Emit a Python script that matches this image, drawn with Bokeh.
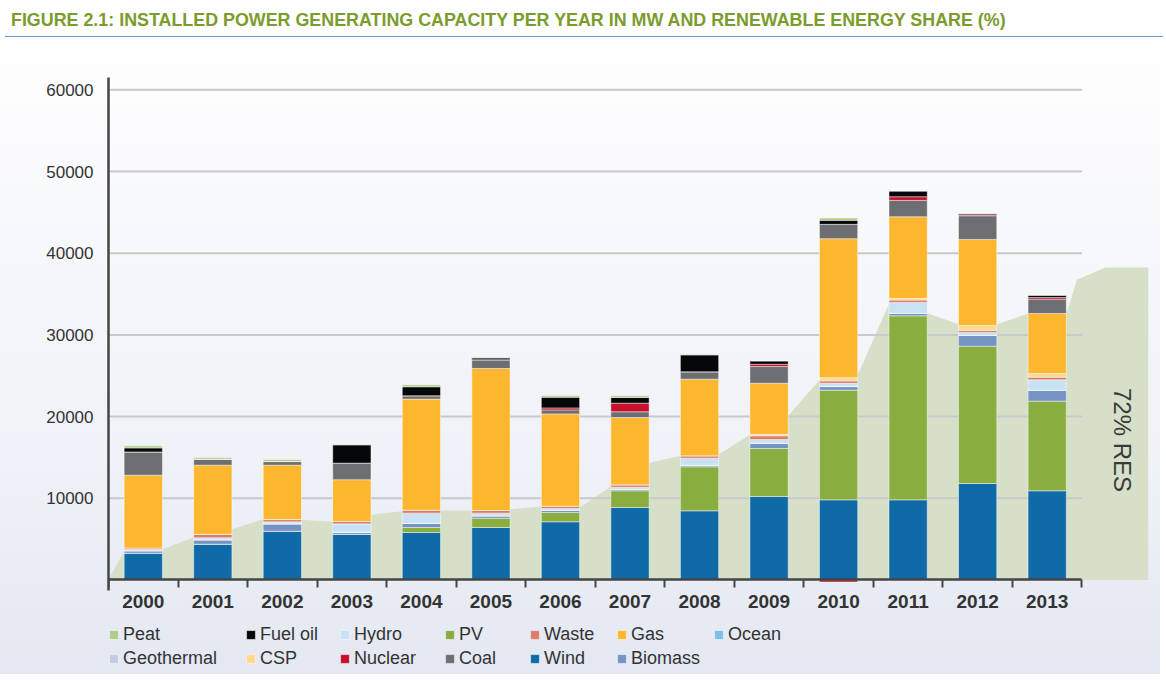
import numpy as np
from bokeh.plotting import figure
from bokeh.models import ColumnDataSource, FixedTicker, Range1d, Legend, LegendItem, Div
from bokeh.layouts import column
from bokeh.core.properties import value
from bokeh.embed import file_html
from bokeh.resources import INLINE

# ---------------- data ----------------
years = [2000, 2001, 2002, 2003, 2004, 2005, 2006, 2007, 2008, 2009, 2010, 2011, 2012, 2013]

wind       = [3280, 4380, 5975, 5600, 5815, 6425, 7125, 8875, 8470, 10220, 9815, 9815, 11810, 10920]
pv         = [0, 0, 0, 0, 610, 1140, 1140, 2040, 5385, 5875, 13415, 22520, 16810, 10970]
biomass    = [300, 540, 900, 245, 490, 285, 285, 200, 200, 650, 450, 290, 1310, 1350]
ocean      = [0, 0, 0, 0, 0, 0, 0, 0, 0, 0, 0, 0, 0, 0]
geothermal = [0, 0, 0, 0, 0, 0, 0, 0, 0, 0, 0, 0, 0, 0]
hydro      = [150, 245, 245, 1030, 1265, 330, 200, 245, 855, 450, 400, 1345, 370, 1270]
waste      = [200, 440, 280, 300, 370, 330, 280, 290, 290, 450, 290, 290, 245, 320]
csp        = [0, 0, 0, 0, 0, 0, 0, 0, 0, 200, 400, 200, 610, 450]
gas        = [8900, 8450, 6650, 5100, 13590, 17380, 11300, 8240, 9380, 6240, 17010, 10000, 10530, 7345]
coal       = [2850, 735, 450, 2030, 410, 1060, 490, 700, 905, 2040, 1750, 2000, 2900, 1750]
nuclear    = [0, 0, 0, 0, 0, 0, 245, 1050, 0, 280, -250, 450, 120, 200]
fuel_oil   = [490, 0, 0, 2250, 1100, 245, 1310, 700, 2080, 415, 490, 700, 160, 280]
peat       = [250, 200, 245, 0, 245, 0, 200, 200, 0, 0, 290, 0, 0, 0]

# renewable-share background area (x in category units, y in MW)
res_x = [-0.503, -0.273, 0.278, 0.719, 1.280, 1.721, 2.258, 2.714, 3.275, 3.720, 4.271, 4.717,
         5.292, 5.742, 6.299, 6.740, 7.295, 7.737, 8.298, 8.733, 9.294, 9.735, 10.292, 10.732,
         11.288, 11.730, 12.281, 12.726, 13.292, 13.427, 13.834, 14.457, 14.457]
res_y = [0, 3574, 3770, 5202, 6218, 7442, 7368, 7124, 7980, 8421, 8507, 8507,
         8666, 8996, 8996, 11530, 14382, 15202, 15484, 17846, 20294, 24578, 25398, 33966,
         32620, 31310, 31310, 32620, 32950, 36744, 38250, 38250, 0]
res_label = "72% RES"

y_ticks = [10000, 20000, 30000, 40000, 50000, 60000]

title = "FIGURE 2.1: INSTALLED POWER GENERATING CAPACITY PER YEAR IN MW AND RENEWABLE ENERGY SHARE (%)"

series = {
    "Wind": wind, "PV": pv, "Biomass": biomass, "Ocean": ocean, "Geothermal": geothermal,
    "Hydro": hydro, "Waste": waste, "CSP": csp, "Gas": gas, "Coal": coal,
    "Nuclear": nuclear, "Fuel oil": fuel_oil, "Peat": peat,
}
colors = {
    "Wind": "#106aa8", "PV": "#8aad3f", "Biomass": "#7594c4", "Ocean": "#7cbfe8",
    "Geothermal": "#c2cbe3", "Hydro": "#c8e1f3", "Waste": "#df7b6b", "CSP": "#fdd996",
    "Gas": "#fdb72f", "Coal": "#6d6e71", "Nuclear": "#c8102e", "Fuel oil": "#050709",
    "Peat": "#b0cd8a",
}
stack_order = ["Wind", "PV", "Biomass", "Ocean", "Geothermal", "Hydro", "Waste", "CSP",
               "Gas", "Coal", "Nuclear", "Fuel oil", "Peat"]
legend_columns = [["Peat", "Geothermal"], ["Fuel oil", "CSP"], ["Hydro", "Nuclear"],
                  ["PV", "Coal"], ["Waste", "Wind"], ["Gas", "Biomass"], ["Ocean"]]

# ---------------- figure ----------------
# frame runs from the top of the value axis down to the bottom of the figure;
# the category axis is fixed at y = 0 and the legend sits inside the frame below it
p = figure(width=1150, height=631,
           x_range=Range1d(-0.5, 14.457), y_range=Range1d(-11567, 61506),
           output_backend="svg", toolbar_location=None,
           min_border_left=108, min_border_right=2, min_border_top=34, min_border_bottom=0,
           background_fill_alpha=0, border_fill_alpha=0, outline_line_color=None)
p.grid.visible = False

xs = np.arange(len(years))

# renewable share area
p.patch(res_x, res_y, fill_color="#d6e0c9", line_color=None)

# grid lines (stop at the end of the category axis)
p.segment(x0=[-0.5] * len(y_ticks), x1=[13.5] * len(y_ticks), y0=y_ticks, y1=y_ticks,
          line_color="#c9c9cb", line_width=2)

# stacked bars
pos_base = np.zeros(len(years))
neg_base = np.zeros(len(years))
renderers = {}
for name in stack_order:
    vals = np.array(series[name], dtype=float)
    bottom = np.where(vals >= 0, pos_base, neg_base + vals)
    top = np.where(vals >= 0, pos_base + vals, neg_base)
    pos_base = pos_base + np.where(vals > 0, vals, 0)
    neg_base = neg_base + np.where(vals < 0, vals, 0)
    src = ColumnDataSource(dict(x=xs, bottom=bottom, top=top))
    renderers[name] = p.vbar(x="x", bottom="bottom", top="top", width=0.55, source=src,
                             fill_color=colors[name], line_color="white", line_alpha=0.45,
                             line_width=1)

# RES label
p.text(x=[14.08], y=[17136], text=[res_label], angle=-np.pi / 2,
       text_align="center", text_baseline="middle",
       text_font=value("Liberation Sans"), text_font_size="24px", text_color="#3a3a3a")

# axes
xa = p.xaxis[0]
xa.fixed_location = 0
xa.bounds = (-0.5, 13.5)
xa.ticker = FixedTicker(ticks=list(range(len(years))),
                        minor_ticks=[i - 0.5 for i in range(len(years) + 1)])
xa.major_label_overrides = {i: str(y) for i, y in enumerate(years)}
xa.axis_line_color = "#444444"
xa.axis_line_width = 2.5
xa.major_tick_line_color = None
xa.major_tick_out = 0
xa.major_tick_in = 0
xa.minor_tick_line_color = "#444444"
xa.minor_tick_line_width = 2
xa.minor_tick_out = 8
xa.minor_tick_in = 0
xa.major_label_standoff = 7
xa.major_label_text_font = "Liberation Sans"
xa.major_label_text_font_size = "19px"
xa.major_label_text_font_style = "bold"
xa.major_label_text_color = "#333333"

ya = p.yaxis[0]
ya.bounds = (-1285, 61506)
ya.ticker = FixedTicker(ticks=y_ticks)
ya.axis_line_color = "#444444"
ya.axis_line_width = 2.5
ya.major_tick_out = 0
ya.major_tick_in = 0
ya.minor_tick_line_color = None
ya.major_label_standoff = 15
ya.major_label_text_font = "Liberation Sans"
ya.major_label_text_font_size = "17px"
ya.major_label_text_color = "#333333"

# legend: one small vertical legend per column so the columns line up as in the original
legend_offsets = [0, 137, 231, 336, 421, 508, 605]
for names, dx in zip(legend_columns, legend_offsets):
    h = len(names) * 21 + (len(names) - 1) * 3
    lg = Legend(items=[LegendItem(label=n, renderers=[renderers[n]]) for n in names],
                orientation="vertical", location=(dx, 672 - 622 - h),
                glyph_width=11, glyph_height=11, label_standoff=4, spacing=3,
                padding=0, margin=0, label_height=21,
                label_text_font="Liberation Sans", label_text_font_size="18px",
                label_text_color="#333333", background_fill_alpha=0,
                border_line_color=None)
    p.add_layout(lg, "center")

title_div = Div(
    text=('<div style="box-sizing:border-box;width:1158px;height:32px;padding:5px 0 0 6px;'
          'border-bottom:1.5px solid #6f96c8;white-space:nowrap;overflow:visible;">'
          '<span style="display:inline-block;font-family:\'Liberation Sans\',sans-serif;'
          'font-weight:bold;font-size:19px;line-height:20px;color:#7b9c2c;'
          'transform:scaleX(0.94);transform-origin:left center;">' + title + '</span></div>'),
    width=1150, height=33)

layout = column(title_div, p, spacing=0,
                styles={"background": "linear-gradient(180deg, #ffffff 0%, #fdfdfe 12%, #eef1f7 70%, #e3e8f2 100%)"})

open("out.html", "w").write(file_html(layout, INLINE))
